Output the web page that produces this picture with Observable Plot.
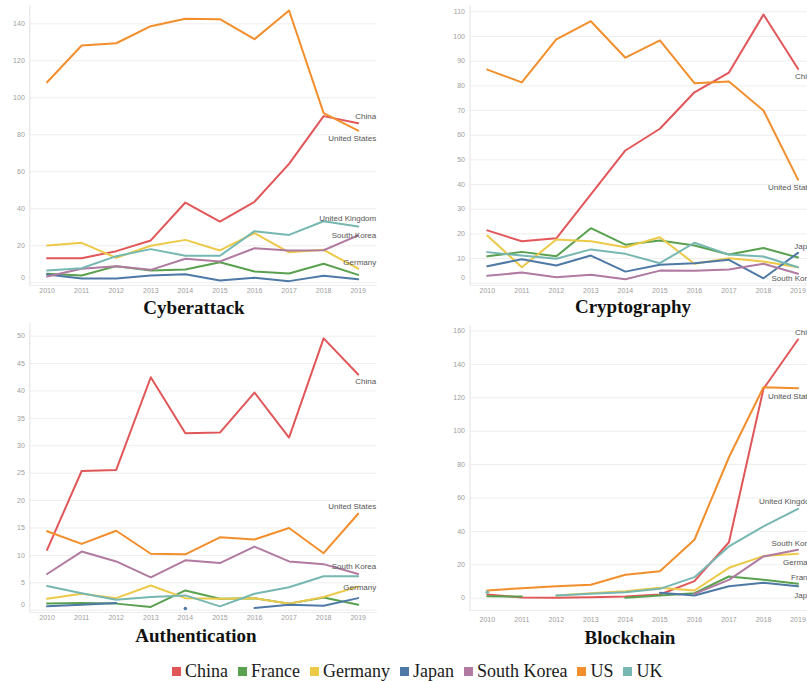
<!DOCTYPE html>
<html>
<head>
<meta charset="utf-8">
<script src="https://cdn.jsdelivr.net/npm/d3@7"></script>
<script src="https://cdn.jsdelivr.net/npm/@observablehq/plot@0.6"></script>
<style>
  html, body { margin: 0; padding: 0; background: #fff; }
  #chart { position: relative; width: 807px; height: 681px; overflow: hidden; background: #fff; }
  .panel { position: absolute; }
  .title { position: absolute; width: 300px; font: bold 19px "Liberation Serif", "Times New Roman", serif; line-height: 20px; text-align: center; color: #111; white-space: nowrap; }
  #legend { position: absolute; left: 172px; top: 661px; display: flex; align-items: center; font: 18px "Liberation Serif", "Times New Roman", serif; line-height: 20px; color: #1a1a1a; white-space: nowrap; }
  .item { display: flex; align-items: center; margin-right: 10px; }
  .sw { width: 9px; height: 9px; margin-right: 4px; }
</style>
</head>
<body>
<div id="chart"></div>
<script>
// Publication years on the x axis
const years = [2010, 2011, 2012, 2013, 2014, 2015, 2016, 2017, 2018, 2019];

// Countries in legend order, with their colours and line-end names
const countries = ["China", "France", "Germany", "Japan", "South Korea", "US", "UK"];
const colors = ["#e15759", "#59a14f", "#edc948", "#4e79a7", "#b07aa1", "#f28e2b", "#76b7b2"];
const endNames = ["China", "France", "Germany", "Japan", "South Korea", "United States", "United Kingdom"];

// Yearly counts, one row per country (same order as `countries`); null = no data
const cyberattack = [
  [13.3, 13.3, 17.1, 22.9, 43.4, 33.1, 43.8, 64.3, 90.1, 86.3],
  [4.9, 3.9, 9.0, 6.6, 7.2, 11.1, 6.1, 5.0, 10.3, 4.3],
  [20.2, 21.6, 13.5, 20.0, 23.2, 17.5, 26.8, 16.5, 17.8, 7.6],
  [4.5, 2.3, 2.3, 3.9, 4.6, 1.2, 2.7, 0.9, 3.8, 1.9],
  [3.4, 7.6, 9.0, 7.0, 13.0, 11.5, 18.7, 17.5, 17.6, 25.6],
  [108.4, 128.3, 129.5, 138.7, 142.7, 142.5, 131.7, 147.2, 91.7, 82.3],
  [6.6, 7.9, 14.4, 18.2, 14.6, 14.6, 27.9, 25.9, 33.3, 30.4]
];
const cryptography = [
  [21.4, 17.0, 18.2, 36.0, 53.8, 62.6, 77.4, 85.4, 108.9, 86.9],
  [10.9, 12.7, 10.9, 22.3, 15.6, 17.3, 15.3, 11.6, 14.3, 10.4],
  [19.3, 6.5, 17.7, 17.0, 14.6, 18.6, 7.9, 10.1, 8.8, 6.5],
  [6.9, 9.7, 7.2, 11.2, 4.7, 7.5, 8.1, 9.5, 2.0, 12.3],
  [3.0, 4.3, 2.4, 3.4, 1.6, 5.1, 5.0, 5.6, 7.9, 3.8],
  [86.6, 81.4, 98.8, 106.2, 91.4, 98.4, 81.1, 81.8, 70.0, 42.0],
  [12.6, 11.2, 9.9, 13.7, 11.9, 8.1, 16.4, 11.6, 10.8, 6.5]
];
const authentication = [
  [11.0, 25.4, 25.6, 42.5, 32.3, 32.4, 39.7, 31.5, 49.6, 43.0],
  [1.2, 1.3, 1.2, 0.6, 3.6, 2.1, 2.2, 1.2, 2.3, 1.0],
  [2.1, 3.0, 2.2, 4.5, 2.2, 2.1, 2.2, 1.2, 2.4, 4.3],
  [0.7, 1.0, 1.3, null, 0.3, null, 0.4, 1.0, 0.8, 2.2],
  [6.6, 10.7, 8.9, 6.0, 9.1, 8.6, 11.6, 8.9, 8.4, 6.6],
  [14.4, 12.1, 14.5, 10.3, 10.2, 13.3, 12.9, 15.0, 10.4, 17.6],
  [4.4, 3.1, 1.9, 2.4, 2.7, 0.7, 3.0, 4.2, 6.2, 6.2]
];
const blockchain = [
  [2.2, 0.4, 0.2, 0.6, 1.0, 2.2, 10.2, 33.5, 125.4, 154.9],
  [1.2, 1.0, null, null, 0.2, 1.6, 3.0, 13.0, 11.0, 8.6],
  [null, null, 1.6, 3.0, 4.2, 6.2, 4.6, 18.2, 25.2, 26.6],
  [null, null, null, null, null, 3.2, 1.6, 7.2, 9.2, 7.2],
  [null, null, null, null, null, null, 2.6, 11.0, 25.0, 29.0],
  [4.6, 6.0, 7.2, 8.0, 14.0, 16.2, 35.0, 84.4, 126.3, 125.7],
  [3.6, null, 1.6, 2.6, 3.6, 5.6, 12.6, 31.0, 43.0, 53.5]
];

// Y-axis tick values per panel
const cyberTicks = [0, 20, 40, 60, 80, 100, 120, 140];
const cryptoTicks = [0, 10, 20, 30, 40, 50, 60, 70, 80, 90, 100, 110];
const authTicks = [0, 5, 10, 15, 20, 25, 30, 35, 40, 45, 50];
const chainTicks = [0, 20, 40, 60, 80, 100, 120, 140, 160];

// Countries named at the end of their line, per panel
const cyberLabeled = ["China", "US", "UK", "South Korea", "Germany"];
const cryptoLabeled = ["China", "US", "Japan", "South Korea"];
const authLabeled = ["China", "US", "South Korea", "Germany"];
const chainLabeled = ["China", "US", "UK", "South Korea", "Germany", "France", "Japan"];

// Panel layout (pixels) and label nudges
const xDomain = [2009.5, 2019.55];
const panels = [
  { title: "Cyberattack", values: cyberattack, ticks: cyberTicks, labeled: cyberLabeled,
    left: 0, top: 0, width: 400, height: 300, mL: 29.3, mR: 23.3, mT: 5, mB: 15,
    yDomain: [-1.46, 149.9], shiftZero: true, xPad: 2.2, titleX: 194, titleY: 307.7,
    nudge: { China: -7, US: 7.7, UK: -7.7, "South Korea": 0, Germany: -6.6 } },
  { title: "Cryptography", values: cryptography, ticks: cryptoTicks, labeled: cryptoLabeled,
    left: 400, top: 0, width: 420, height: 300, mL: 69.5, mR: 3.5, mT: 5, mB: 15,
    yDomain: [-0.93, 112.57], shiftZero: true, xPad: 2.2, titleX: 633, titleY: 307.5,
    nudge: { China: 7.7, US: 7.9, Japan: -6.7, "South Korea": 4.4 } },
  { title: "Authentication", values: authentication, ticks: authTicks, labeled: authLabeled,
    left: 0, top: 320, width: 400, height: 310, mL: 29.3, mR: 23.3, mT: 3, mB: 18,
    yDomain: [-0.42, 52.31], shiftZero: true, xPad: 2.2, titleX: 196, titleY: 636,
    nudge: { China: 7.2, US: -7.3, "South Korea": -7.3, Germany: 0.6 } },
  { title: "Blockchain", values: blockchain, ticks: chainTicks, labeled: chainLabeled,
    left: 400, top: 320, width: 420, height: 310, mL: 69.5, mR: 3.5, mT: 5, mB: 20,
    yDomain: [-7.37, 163.3], shiftZero: false, xPad: 6.5, titleX: 630, titleY: 638.3,
    nudge: { China: -6.7, US: 8, UK: -7.4, "South Korea": -6.6, Germany: 8.4, France: -6.6, Japan: 9.3 } }
];

const chart = document.getElementById("chart");
const tickFont = { fontSize: 7, fontFamily: "Liberation Sans, Arial, sans-serif", color: "#9d9d9d", label: null };

function drawPanel(p) {
  const rows = countries.flatMap((c, i) =>
    years.map((yr, j) => ({ country: c, year: yr, value: p.values[i][j] })));
  // points with no neighbour on either side show as a dot
  const lone = rows.filter((d) => {
    if (d.value == null) return false;
    const i = countries.indexOf(d.country), j = years.indexOf(d.year);
    const prev = j > 0 ? p.values[i][j - 1] : null;
    const next = j < years.length - 1 ? p.values[i][j + 1] : null;
    return prev == null && next == null;
  });
  const labelMarks = p.labeled.map((c) => {
    const i = countries.indexOf(c);
    return Plot.text([{ year: xDomain[1], value: p.values[i][years.length - 1], name: endNames[i] }], {
      x: "year", y: "value", text: "name", textAnchor: "end", dx: -1, dy: p.nudge[c],
      fontSize: 8, fontFamily: "Liberation Sans, Arial, sans-serif", fill: "#555"
    });
  });
  const yTicks = p.shiftZero ? p.ticks.filter((t) => t !== 0) : p.ticks;
  const svg = Plot.plot({
    width: p.width,
    height: p.height,
    marginLeft: p.mL, marginRight: p.mR, marginTop: p.mT, marginBottom: p.mB,
    style: "background: transparent; max-width: none; overflow: visible;",
    x: { domain: xDomain, axis: null, label: null },
    y: { domain: p.yDomain, axis: null, label: null },
    color: { domain: countries, range: colors },
    marks: [
      Plot.ruleY(p.ticks, { stroke: "#eeeeee", strokeWidth: 1 }),
      Plot.ruleX([xDomain[0]], { stroke: "#e2e2e2" }),
      Plot.ruleY([p.yDomain[0]], { stroke: "#ececec" }),
      Plot.axisY(yTicks, { ...tickFont, tickSize: 0, tickPadding: 5, tickFormat: (d) => String(d) }),
      p.shiftZero ? Plot.axisY([0], { ...tickFont, tickSize: 0, tickPadding: 5, dy: -5.5, tickFormat: (d) => String(d) }) : null,
      Plot.axisX(years, { ...tickFont, tickSize: 0, tickPadding: p.xPad, tickFormat: (d) => String(d) }),
      Plot.line(rows, { x: "year", y: "value", z: "country", stroke: "country", strokeWidth: 2 }),
      Plot.dot(lone, { x: "year", y: "value", fill: "country", r: 1.8 }),
      ...labelMarks
    ]
  });
  const holder = document.createElement("div");
  holder.className = "panel";
  holder.style.left = p.left + "px";
  holder.style.top = p.top + "px";
  holder.appendChild(svg);
  chart.appendChild(holder);

  const t = document.createElement("div");
  t.className = "title";
  t.textContent = p.title;
  t.style.left = (p.titleX - 150) + "px";
  t.style.top = (p.titleY - 10.1) + "px";
  chart.appendChild(t);
}

panels.forEach(drawPanel);

// Legend row
const legend = document.createElement("div");
legend.id = "legend";
countries.forEach((c, i) => {
  const item = document.createElement("span");
  item.className = "item";
  const sw = document.createElement("span");
  sw.className = "sw";
  sw.style.background = colors[i];
  const label = document.createElement("span");
  label.textContent = c;
  item.appendChild(sw);
  item.appendChild(label);
  legend.appendChild(item);
});
chart.appendChild(legend);
</script>
</body>
</html>
